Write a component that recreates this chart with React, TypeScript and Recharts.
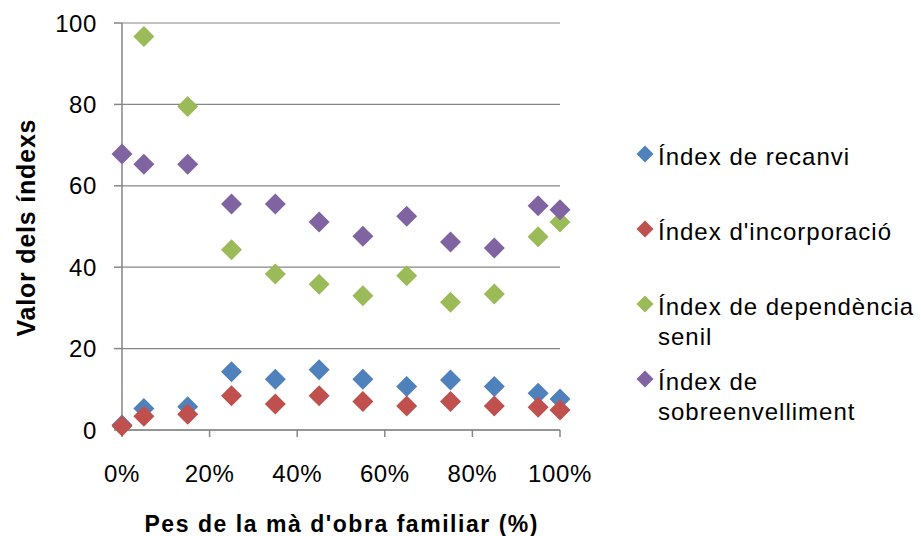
import React from 'react';
import { ScatterChart, Scatter, XAxis, YAxis, CartesianGrid, Legend, Label } from 'recharts';

// Share of family labour (%) — x positions of the observations
const xValues = [0, 5, 15, 25, 35, 45, 55, 65, 75, 85, 95, 100];

// Index values per series (null = no point)
const recanvi = [1.2, 5.3, 5.7, 14.3, 12.5, 14.8, 12.5, 10.7, 12.3, 10.7, 9.0, 7.6];
const incorporacio = [1.0, 3.4, 3.9, 8.4, 6.4, 8.4, 7.0, 5.9, 7.0, 5.9, 5.6, 4.9];
const dependencia = [null, 96.7, 79.5, 44.3, 38.3, 35.8, 33.0, 37.9, 31.4, 33.4, 47.5, 51.1];
const sobreenvelliment = [67.8, 65.3, 65.3, 55.5, 55.5, 51.1, 47.6, 52.5, 46.2, 44.7, 55.1, 54.1];

const seriesNames = [
  'Índex de recanvi',
  "Índex d'incorporació",
  'Índex de dependència senil',
  'Índex de sobreenvelliment',
];
const legendLines = [
  ['Índex de recanvi'],
  ["Índex d'incorporació"],
  ['Índex de dependència', 'senil'],
  ['Índex de', 'sobreenvelliment'],
];
const seriesColors = ['#4F81BD', '#C0504D', '#9BBB59', '#8064A2'];

const xTicks = [0, 20, 40, 60, 80, 100];
const yTicks = [0, 20, 40, 60, 80, 100];

const xTitle = "Pes de la mà d'obra familiar (%)";
const yTitle = 'Valor dels índexs';

const toPoints = (vals: (number | null)[]) =>
  xValues
    .map((x, i) => ({ x, y: vals[i] }))
    .filter((p) => p.y !== null && p.y !== undefined);

const allSeries = [recanvi, incorporacio, dependencia, sobreenvelliment].map(toPoints);

const FONT = '"Liberation Sans", Arial, sans-serif';
const AXIS_COLOR = '#868686';

const Diamond = (props: any) => {
  const { cx, cy, fill } = props;
  if (cx == null || cy == null) return null;
  const h = 10.5;
  return (
    <polygon
      points={`${cx},${cy - h} ${cx + h},${cy} ${cx},${cy + h} ${cx - h},${cy}`}
      fill={fill}
    />
  );
};

const LegendContent = (props: any) => {
  const payload = props.payload || [];
  const baselines = [165, 240, 315, 390];
  return (
    <svg width={291} height={536} style={{ display: 'block' }}>
      {payload.map((entry: any, i: number) => {
        const idx = seriesNames.indexOf(entry.value);
        const k = idx >= 0 ? idx : i;
        const base = baselines[k];
        const color = entry.color || seriesColors[k];
        const my = base - 11;
        const mx = 15;
        const m = 8.5;
        return (
          <g key={k}>
            <polygon
              points={`${mx},${my - m} ${mx + m},${my} ${mx},${my + m} ${mx - m},${my}`}
              fill={color}
            />
            {legendLines[k].map((line, j) => (
              <text
                key={j}
                x={28}
                y={base + j * 30}
                fontFamily={FONT}
                fontSize={24}
                letterSpacing={1}
                fill="#000"
              >
                {line}
              </text>
            ))}
          </g>
        );
      })}
    </svg>
  );
};

const XTitle = (props: any) => {
  const vb = props.viewBox || { x: 122, y: 430, width: 438, height: 106 };
  return (
    <text
      x={vb.x + vb.width / 2}
      y={vb.y + 101.5}
      textAnchor="middle"
      fontFamily={FONT}
      fontWeight="bold"
      fontSize={23}
      textLength={393}
      lengthAdjust="spacing"
      fill="#000"
    >
      {xTitle}
    </text>
  );
};

const YTitle = (props: any) => {
  const vb = props.viewBox || { x: 0, y: 23, width: 122, height: 407 };
  const x = vb.x + 35;
  const y = vb.y + vb.height / 2 + 1.5;
  return (
    <text
      x={x}
      y={y}
      transform={`rotate(-90, ${x}, ${y})`}
      textAnchor="middle"
      fontFamily={FONT}
      fontWeight="bold"
      fontSize={25}
      textLength={217}
      lengthAdjust="spacing"
      fill="#000"
    >
      {yTitle}
    </text>
  );
};

export default function App() {
  return (
    <div style={{ position: 'absolute', left: 0, top: 0, background: '#fff' }}>
      <ScatterChart
        width={921}
        height={536}
        margin={{ top: 23, right: 361, bottom: 0, left: 0 }}
      >
        <CartesianGrid vertical={false} stroke={AXIS_COLOR} strokeWidth={1.2} />
        <XAxis
          type="number"
          dataKey="x"
          domain={[0, 100]}
          ticks={xTicks}
          tickFormatter={(v: number) => `${v}%`}
          height={106}
          tickSize={7}
          tickMargin={28}
          axisLine={{ stroke: AXIS_COLOR, strokeWidth: 1.5 }}
          tickLine={{ stroke: AXIS_COLOR, strokeWidth: 1.5 }}
          tick={{ fill: '#000', fontSize: 24, fontFamily: FONT, letterSpacing: 0.6 }}
          interval={0}
        >
          <Label content={<XTitle />} />
        </XAxis>
        <YAxis
          type="number"
          dataKey="y"
          domain={[0, 100]}
          ticks={yTicks}
          width={122}
          tickSize={8}
          tickMargin={17}
          axisLine={{ stroke: AXIS_COLOR, strokeWidth: 1.5 }}
          tickLine={{ stroke: AXIS_COLOR, strokeWidth: 1.5 }}
          tick={{ fill: '#000', fontSize: 24, fontFamily: FONT, letterSpacing: 0.6 }}
          interval={0}
        >
          <Label content={<YTitle />} />
        </YAxis>
        <Legend
          layout="vertical"
          align="center"
          verticalAlign="middle"
          content={<LegendContent />}
          wrapperStyle={{ position: 'absolute', left: 630, top: 0, width: 291, height: 536 }}
        />
        {allSeries.map((pts, i) => (
          <Scatter
            key={seriesNames[i]}
            name={seriesNames[i]}
            data={pts}
            fill={seriesColors[i]}
            shape={<Diamond />}
            isAnimationActive={false}
          />
        ))}
      </ScatterChart>
    </div>
  );
}
